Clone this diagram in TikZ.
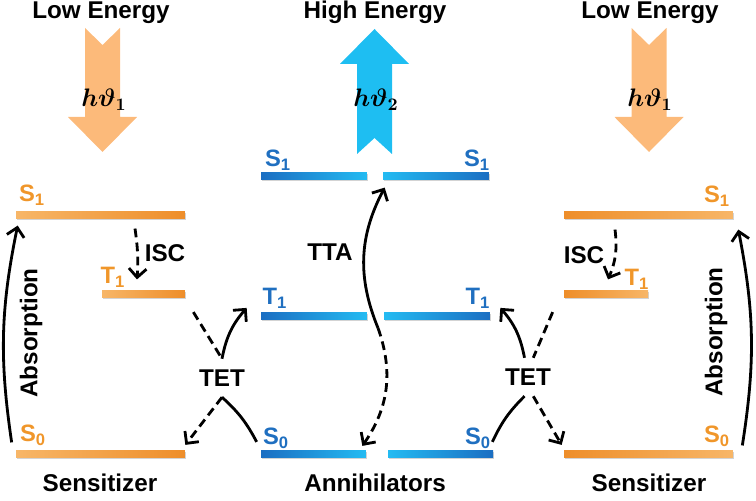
\documentclass[tikz,border=0pt]{standalone}
\usepackage{bm}
\usepackage{fontspec}
\setmainfont{Liberation Sans}
\usetikzlibrary{arrows.meta,shadows}

\definecolor{orgdark}{RGB}{238,142,42}
\definecolor{orglight}{RGB}{247,182,104}
\definecolor{orgarrow}{RGB}{252,186,122}
\definecolor{orgtext}{RGB}{240,150,42}
\definecolor{bludark}{RGB}{27,110,194}
\definecolor{blulight}{RGB}{36,187,242}
\definecolor{bluarrow}{RGB}{30,190,242}
\definecolor{blutext}{RGB}{31,111,192}

\tikzset{
  lvl/.style={minimum height=0.15cm, inner sep=0pt,
    drop shadow={shadow xshift=0.5pt, shadow yshift=-0.9pt, opacity=0.35}},
  olvlA/.style={lvl, left color=orglight, right color=orgdark},
  olvlB/.style={lvl, left color=orgdark, right color=orglight},
  blvlA/.style={lvl, left color=bludark, right color=blulight},
  blvlB/.style={lvl, left color=blulight, right color=bludark},
  txt/.style={font=\fontsize{13.8}{16}\selectfont\bfseries},
  hvlbl/.style={font=\fontsize{14}{16}\selectfont},
  olbl/.style={font=\fontsize{13.5}{16}\selectfont\bfseries, text=orgtext, inner sep=0pt},
  blbl/.style={font=\fontsize{13.5}{16}\selectfont\bfseries, text=blutext, inner sep=0pt},
  proc/.style={txt, inner sep=6pt},
  lineS/.style={line width=1.6pt},
  lineD/.style={lineS, dash pattern=on 5pt off 3pt},
  radarr/.style={lineS, -{Straight Barb[length=5pt,width=10pt]}},
  nradarr/.style={lineD, -{Straight Barb[length=5pt,width=10pt]}},
}

\begin{document}
\begin{tikzpicture}[x=0.02cm,y=0.02cm]
\useasboundingbox (0,0) rectangle (756,500);

% Photons
\fill[orgarrow]
(85,472) -- (102.5,455) -- (120,472) -- (120,383) --
(137,383) -- (102.5,348) -- (68,383) -- (85,383) -- cycle;
\fill[orgarrow]
(631.5,472) -- (649,455) -- (666.5,472) -- (666.5,383) --
(683.5,383) -- (649,348) -- (614.5,383) -- (631.5,383) -- cycle;
\fill[bluarrow]
(374.5,471) -- (409,436) -- (392,436) -- (392,346) --
(374.5,362) -- (357,346) -- (357,436) -- (340,436) -- cycle;

\node[hvlbl] (hvL) at (104,400) {$\bm{h\vartheta_1}$};
\node[hvlbl] (hvR) at (650,400) {$\bm{h\vartheta_1}$};
\node[hvlbl] (hvM) at (376,400) {$\bm{h\vartheta_2}$};

\node[txt, anchor=base] (lowL) at (101,481) {Low Energy};
\node[txt, anchor=base] (high) at (375,481) {High Energy};
\node[txt, anchor=base] (lowR) at (650,481) {Low Energy};

% Sensitizer (left)
\node[olvlA, minimum width=3.38cm] (lS1) at (100.5,285) {};
\node[olvlA, minimum width=1.66cm] (lT1) at (143.5,206) {};
\node[olvlA, minimum width=3.38cm] (lS0) at (100.5,46) {};
\node[olbl] (lS1t) at (32,305) {S\textsubscript{1}};
\node[olbl] (lT1t) at (113,223) {T\textsubscript{1}};
\node[olbl] (lS0t) at (33,65) {S\textsubscript{0}};

% Sensitizer (right)
\node[olvlB, minimum width=3.38cm] (rS1) at (648.5,285) {};
\node[olvlB, minimum width=1.68cm] (rT1) at (606,206) {};
\node[olvlB, minimum width=3.38cm] (rS0) at (648.5,46) {};
\node[olbl] (rS1t) at (717,304) {S\textsubscript{1}};
\node[olbl] (rT1t) at (637,221) {T\textsubscript{1}};
\node[olbl] (rS0t) at (717,64) {S\textsubscript{0}};

% Annihilators
\node[blvlA, minimum width=2.12cm] (anS1L) at (314,324) {};
\node[blvlB, minimum width=2.12cm] (anS1R) at (436,324) {};
\node[blvlA, minimum width=2.12cm] (anT1L) at (314,184) {};
\node[blvlB, minimum width=2.12cm] (anT1R) at (437,184) {};
\node[blvlA, minimum width=2.1cm] (anS0L) at (313.5,46) {};
\node[blvlB, minimum width=2.1cm] (anS0R) at (440.5,46) {};
\node[blbl] (anS1Lt) at (278,340) {S\textsubscript{1}};
\node[blbl] (anS1Rt) at (477,340) {S\textsubscript{1}};
\node[blbl] (anT1Lt) at (275,202) {T\textsubscript{1}};
\node[blbl] (anT1Rt) at (478,202) {T\textsubscript{1}};
\node[blbl] (anS0Lt) at (276,62) {S\textsubscript{0}};
\node[blbl] (anS0Rt) at (478,62) {S\textsubscript{0}};

\node[txt, anchor=base] (sensL) at (100,9) {Sensitizer};
\node[txt, anchor=base] (annih) at (375,9) {Annihilators};
\node[txt, anchor=base] (sensR) at (649,9) {Sensitizer};

% Absorption
\draw[radarr]
([shift={(-4,7.5)}]lS0.north west)
to[bend left=10]
([shift={(2,-6.5)}]lS1.south west);
\draw[radarr]
([shift={(9,4.5)}]rS0.north east)
to[bend right=10]
([shift={(5,-10.5)}]rS1.south east);
\node[txt, rotate=90] (absL) at (31,167) {Absorption};
\node[txt, rotate=90] (absR) at (716,168) {Absorption};

% ISC
\draw[nradarr]
([shift={(34.5,-9.5)}]lS1.south)
to[bend left=6]
([shift={(-6.5,10.5)}]lT1.north);
\draw[nradarr]
([shift={(-33.5,-10.5)}]rS1.south)
to[bend left=15]
([shift={(2,10.5)}]rT1.north);
\node[txt] (iscL) at (165,247) {ISC};
\node[txt] (iscR) at (584,245) {ISC};

% TET (left)
\node[proc] (tetL) at (222,122) {TET};
\draw[lineD]
([shift={(8,-14)}]lT1.south east)
--
(tetL.north);
\draw[radarr]
(tetL.north)
to[bend left=15]
([shift={(-14,4)}]anT1L.north west);
\draw[nradarr]
(tetL.south)
--
([shift={(0,5)}]lS0.north east);
\draw[lineS]
([shift={(-4,8)}]anS0L.north west)
to[bend right=10]
(tetL.south);

% TET (right)
\node[proc] (tetR) at (528,123) {TET};
\draw[lineD]
([shift={(-11,-14)}]rT1.south west)
--
([xshift=3pt]tetR.north);
\draw[radarr]
([xshift=-2pt]tetR.north)
to[bend right=15]
([shift={(10,4)}]anT1R.north east);
\draw[nradarr]
([xshift=3pt]tetR.south)
--
([shift={(-2,5)}]rS0.north west);
\draw[lineS]
([shift={(-1,8)}]anS0R.north east)
to[bend left=10]
([xshift=-2pt]tetR.south);

% TTA
\coordinate (ttaC) at (378,172);
\draw[radarr]
(ttaC)
to[bend left=25]
([shift={(2,-7.5)}]anS1R.south west);
\draw[nradarr]
(ttaC)
to[bend left=27]
([shift={(-4,4)}]anS0L.north east);
\node[txt] (tta) at (330,248) {TTA};

\end{tikzpicture}
\end{document}
